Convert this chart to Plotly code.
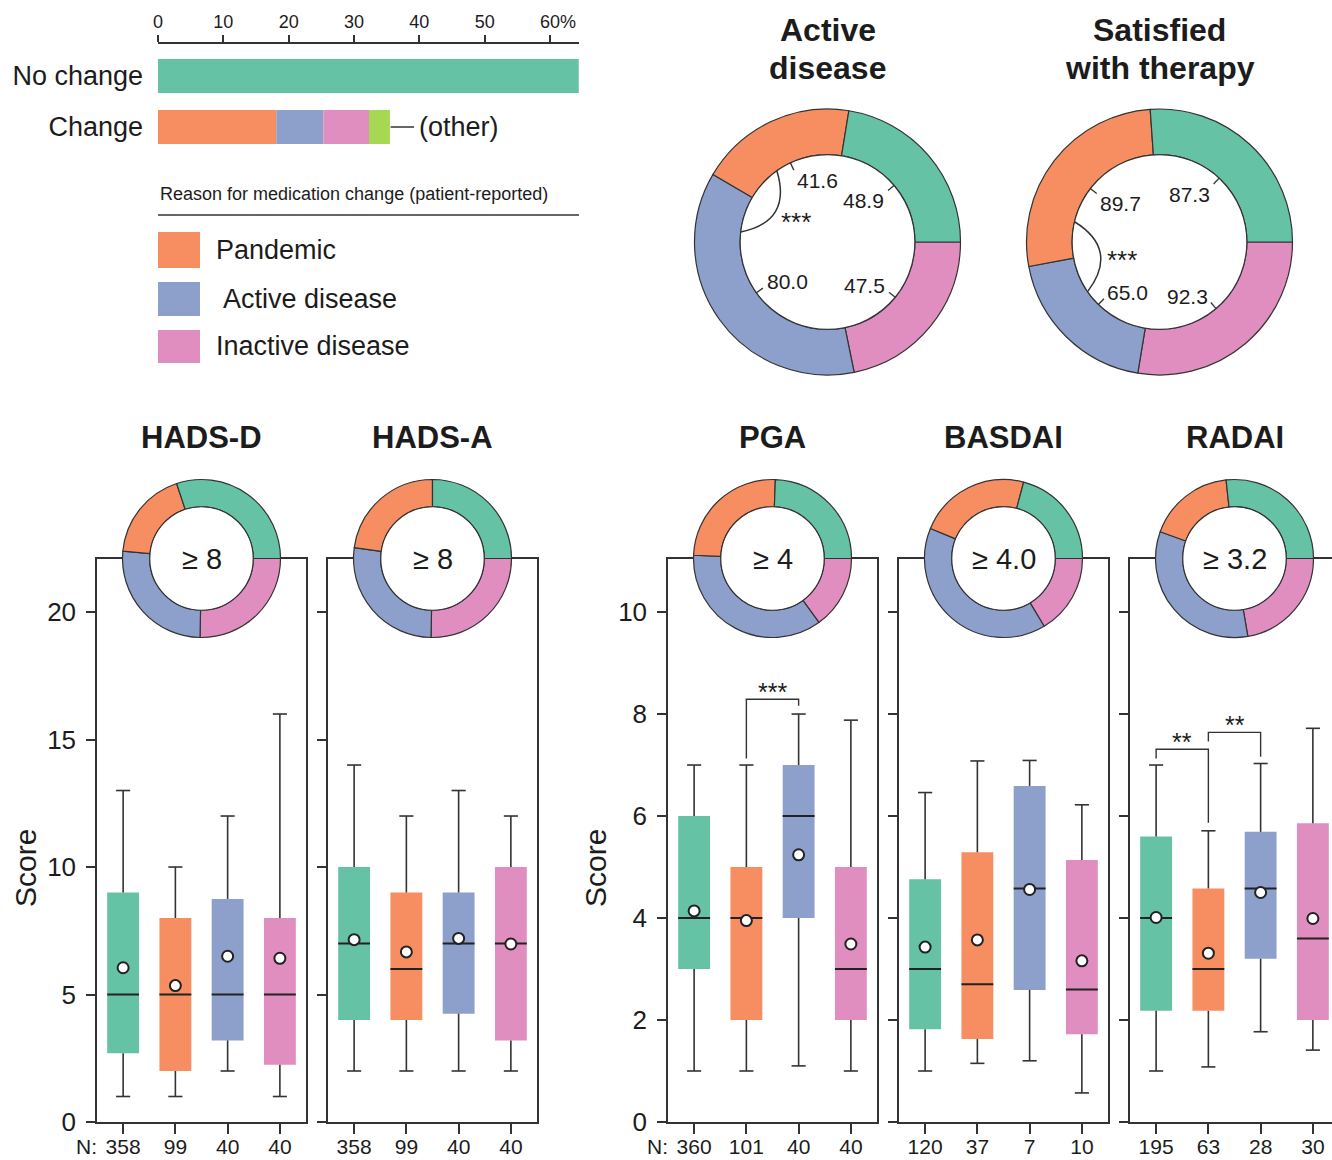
import math
import plotly.graph_objects as go

W, H = 1332, 1160
FONT = "Liberation Sans, Arial, sans-serif"
TXT = "#1c1c1c"
LINE = "#333333"

# ---------------- data ----------------
group_names = ["No change", "Pandemic", "Active disease", "Inactive disease"]
group_colors = ["#66c2a5", "#f68e62", "#8da0cb", "#e08dc0"]
other_color = "#a6d854"

bar_categories = ["No change", "Change"]
no_change_pct = 64.4
change_reasons = ["Pandemic", "Active disease", "Inactive disease", "(other)"]
change_pct = [18.1, 7.2, 7.0, 3.2]
pct_ticks = [0, 10, 20, 30, 40, 50, 60]
reason_caption = "Reason for medication change (patient-reported)"

# % of patients in each group (No change, Pandemic, Active, Inactive)
active_disease_pct = [48.9, 41.6, 80.0, 47.5]
satisfied_pct = [87.3, 89.7, 65.0, 92.3]
sig_label_angle = [308, 250.5]   # where the *** sits inside each top donut (deg, clockwise from 12)

panel_titles = ["HADS-D", "HADS-A", "PGA", "BASDAI", "RADAI"]
thresholds = ["≥ 8", "≥ 8", "≥ 4", "≥ 4.0", "≥ 3.2"]
# share of each group among patients above threshold (No change, Pandemic, Active, Inactive)
hadsd_share = [30.1, 18.4, 26.2, 25.3]
hadsa_share = [25.0, 22.8, 26.9, 25.3]
pga_share = [24.4, 24.9, 35.6, 15.0]
basdai_share = [20.9, 22.9, 39.8, 16.4]
radai_share = [26.7, 17.8, 33.2, 22.3]

hadsd_n = [358, 99, 40, 40]
hadsa_n = [358, 99, 40, 40]
pga_n = [360, 101, 40, 40]
basdai_n = [120, 37, 7, 10]
radai_n = [195, 63, 28, 30]

# box statistics (No change, Pandemic, Active, Inactive)
hadsd_low = [1, 1, 2, 1]
hadsd_q1 = [2.7, 2.0, 3.2, 2.25]
hadsd_med = [5, 5, 5, 5]
hadsd_q3 = [9, 8, 8.75, 8]
hadsd_high = [13, 10, 12, 16]
hadsd_mean = [6.05, 5.35, 6.5, 6.42]

hadsa_low = [2, 2, 2, 2]
hadsa_q1 = [4, 4, 4.25, 3.2]
hadsa_med = [7, 6, 7, 7]
hadsa_q3 = [10, 9, 9, 10]
hadsa_high = [14, 12, 13, 12]
hadsa_mean = [7.15, 6.67, 7.2, 6.98]

pga_low = [1, 1, 1.1, 1]
pga_q1 = [3, 2, 4, 2]
pga_med = [4, 4, 6, 3]
pga_q3 = [6, 5, 7, 5]
pga_high = [7, 7, 8, 7.88]
pga_mean = [4.14, 3.95, 5.24, 3.49]

basdai_low = [1.0, 1.15, 1.2, 0.57]
basdai_q1 = [1.82, 1.63, 2.59, 1.72]
basdai_med = [3.0, 2.7, 4.58, 2.6]
basdai_q3 = [4.76, 5.29, 6.59, 5.14]
basdai_high = [6.46, 7.08, 7.09, 6.22]
basdai_mean = [3.43, 3.57, 4.56, 3.16]

radai_low = [1.0, 1.08, 1.77, 1.41]
radai_q1 = [2.18, 2.18, 3.2, 2.0]
radai_med = [4.0, 3.0, 4.58, 3.6]
radai_q3 = [5.6, 4.58, 5.69, 5.86]
radai_high = [7.0, 5.71, 7.03, 7.72]
radai_mean = [4.01, 3.31, 4.5, 3.99]

# significance brackets: (panel, from box, to box, left foot, top, right foot, label)
brackets = [
    (2, 2, 3, 7.13, 8.29, 8.16, "***"),
    (4, 1, 2, 7.13, 7.31, 5.87, "**"),
    (4, 2, 3, 7.46, 7.64, 7.16, "**"),
]

# ---------------- helpers ----------------
fig = go.Figure()
axes = {}


def px(x):
    return x / W


def py(y):
    return 1 - y / H


def ann(text, x, y, size, xanchor="center", yanchor="middle", bold=False, **kw):
    fig.add_annotation(text=f"<b>{text}</b>" if bold else text, x=px(x), y=py(y),
                       xref="paper", yref="paper", xanchor=xanchor, yanchor=yanchor,
                       showarrow=False, font=dict(size=size, color=TXT, family=FONT), **kw)


def pline(x0, y0, x1, y1, width=1.5):
    fig.add_shape(type="line", xref="paper", yref="paper", x0=px(x0), y0=py(y0),
                  x1=px(x1), y1=py(y1), line=dict(color=LINE, width=width), layer="above")


PIE_ORDER = [3, 2, 1, 0]  # clockwise from 3 o'clock: inactive, active, pandemic, no change


def donut(cx, cy, R, vals, hole):
    fig.add_trace(go.Pie(
        values=[vals[i] for i in PIE_ORDER],
        marker=dict(colors=[group_colors[i] for i in PIE_ORDER], line=dict(color=LINE, width=1.2)),
        hole=hole, sort=False, direction="clockwise", rotation=90,
        textinfo="none", textposition="none", hoverinfo="skip", showlegend=False,
        domain=dict(x=[px(cx - R), px(cx + R)], y=[py(cy + R), py(cy - R)])))
    r = hole * R
    fig.add_shape(type="circle", xref="paper", yref="paper",
                  x0=px(cx - r), x1=px(cx + r), y0=py(cy + r), y1=py(cy - r),
                  fillcolor="white", line=dict(color=LINE, width=1.2), layer="above")


def seg_angles(vals):
    total = sum(vals)
    a = 90.0
    mids, spans = {}, {}
    for i in PIE_ORDER:
        s = vals[i] / total * 360
        mids[i] = a + s / 2
        spans[i] = (a, a + s)
        a += s
    return mids, spans


def polar(cx, cy, r, deg):
    t = math.radians(deg)
    return cx + r * math.sin(t), cy - r * math.cos(t)


def top_donut(cx, cy, R, vals, title_lines, star_angle):
    hole = 0.657
    donut(cx, cy, R, vals, hole)
    rin = hole * R
    mids, spans = seg_angles(vals)
    for i in range(4):
        m = mids[i]
        x0, y0 = polar(cx, cy, rin, m)
        x1, y1 = polar(cx, cy, rin - 8, m)
        pline(x0, y0, x1, y1, 1.3)
        lx, ly = polar(cx, cy, rin - 10, m)
        s = math.sin(math.radians(m))
        upper = -math.cos(math.radians(m)) < 0
        ann(f"{vals[i]:.1f}", lx, ly + (9 if upper else -5), 21,
            xanchor="right" if s > 0 else "left")
    # significance arc between Pandemic and Active disease
    b = spans[2][1]
    ax, ay = polar(cx, cy, rin, b - 24)
    bx, by = polar(cx, cy, rin, b + 24)
    mx, my = (ax + bx) / 2, (ay + by) / 2
    half = math.hypot(bx - ax, by - ay) / 2
    nx, ny = cx - mx, cy - my
    nl = math.hypot(nx, ny)
    nx, ny = nx / nl, ny / nl
    sag = 0.55 * half
    qx, qy = mx + nx * 2 * sag, my + ny * 2 * sag
    fig.add_shape(type="path", xref="paper", yref="paper",
                  path=f"M {px(ax)} {py(ay)} Q {px(qx)} {py(qy)} {px(bx)} {py(by)}",
                  line=dict(color=LINE, width=1.5), layer="above")
    sx, sy = polar(cx, cy, 40, star_angle)
    ann("***", sx, sy + 5, 26)
    ann(title_lines[0], cx, 30, 32, bold=True)
    ann(title_lines[1], cx, 68, 32, bold=True)


# ---------------- top-left bar chart ----------------
fig.add_trace(go.Bar(orientation="h", y=[0], x=[no_change_pct], width=0.667,
                     marker=dict(color=group_colors[0], line=dict(width=0)),
                     xaxis="x", yaxis="y", hoverinfo="skip", showlegend=False))
cum = 0.0
for v, c in zip(change_pct, group_colors[1:] + [other_color]):
    fig.add_trace(go.Bar(orientation="h", y=[1], x=[v], base=[cum], width=0.667,
                         marker=dict(color=c, line=dict(width=0)),
                         xaxis="x", yaxis="y", hoverinfo="skip", showlegend=False))
    cum += v
fig.add_shape(type="line", xref="x", yref="y", x0=cum + 0.1, x1=cum + 3.7, y0=1, y1=1,
              line=dict(color=LINE, width=1.5))
fig.add_annotation(text=change_reasons[-1], x=cum + 4.2, y=1, xref="x", yref="y",
                   xanchor="left", yanchor="middle", showarrow=False,
                   font=dict(size=27, color=TXT, family=FONT))
fig.add_annotation(text="%", x=pct_ticks[-1], y=py(22), xref="x", yref="paper", xshift=8,
                   xanchor="left", yanchor="middle", showarrow=False,
                   font=dict(size=18, color=TXT, family=FONT))

axes["xaxis"] = dict(domain=[px(158), px(579)], anchor="y", side="top", range=[0, 64.44],
                     tickvals=pct_ticks, ticktext=[str(t) for t in pct_ticks],
                     showline=True, linecolor=LINE, linewidth=1.5, ticks="outside", ticklen=7,
                     tickwidth=1.5, tickcolor=LINE, tickfont=dict(size=18, color=TXT),
                     showgrid=False, zeroline=False, automargin=False)
axes["yaxis"] = dict(domain=[py(160), py(44)], anchor="x", range=[1.647, -0.627],
                     tickvals=[0, 1], ticktext=bar_categories, ticks="", showline=False,
                     showgrid=False, zeroline=False, tickfont=dict(size=27, color=TXT),
                     ticklabelstandoff=14, automargin=False)

ann(reason_caption, 158, 194, 18, xanchor="left")
pline(158, 215, 579, 215, 1.5)

legend_boxes = [(232, 268), (282, 316), (330, 363)]
legend_text_x = [214, 221, 214]
for k, ((y0, y1), tx) in enumerate(zip(legend_boxes, legend_text_x)):
    fig.add_shape(type="rect", xref="paper", yref="paper", x0=px(158), x1=px(200),
                  y0=py(y1), y1=py(y0), fillcolor=group_colors[k + 1], line=dict(width=0))
    ann(group_names[k + 1], tx, (y0 + y1) / 2, 27, xanchor="left")

# ---------------- top donuts ----------------
top_donut(827.5, 242, 133, active_disease_pct, ["Active", "disease"], sig_label_angle[0])
top_donut(1159.5, 242, 133, satisfied_pct, ["Satisfied", "with therapy"], sig_label_angle[1])

# ---------------- box panels ----------------
panels = [
    (hadsd_low, hadsd_q1, hadsd_med, hadsd_q3, hadsd_high, hadsd_mean, hadsd_n, hadsd_share),
    (hadsa_low, hadsa_q1, hadsa_med, hadsa_q3, hadsa_high, hadsa_mean, hadsa_n, hadsa_share),
    (pga_low, pga_q1, pga_med, pga_q3, pga_high, pga_mean, pga_n, pga_share),
    (basdai_low, basdai_q1, basdai_med, basdai_q3, basdai_high, basdai_mean, basdai_n, basdai_share),
    (radai_low, radai_q1, radai_med, radai_q3, radai_high, radai_mean, radai_n, radai_share),
]
panel_px = [(97, 306), (328, 537), (668, 877), (899, 1108), (1130, 1339)]
panel_scale = ["hads", "hads", "ten", "ten", "ten"]
FRAME_TOP, FRAME_BOT = 559, 1122
yranges = {"hads": [0, 22.08], "ten": [0, 11.04]}
yticks = {"hads": [0, 5, 10, 15, 20], "ten": [0, 2, 4, 6, 8, 10]}
positions = [1, 2, 3, 4]
BOX_W = 0.61
CAP = 0.135

for p, (lo, q1, med, q3, hi, mean, ns, share) in enumerate(panels):
    k = p + 2
    xa, ya = f"x{k}", f"y{k}"
    x0p, x1p = panel_px[p]
    unit = (x1p - x0p) / 4
    xend = min(x1p, W)
    xr = [0.5, 0.5 + (xend - x0p) / unit]
    lx, ly = [], []
    for j, pos in enumerate(positions):
        lx += [pos, pos, None, pos - CAP, pos + CAP, None, pos, pos, None, pos - CAP, pos + CAP, None]
        ly += [lo[j], q1[j], None, lo[j], lo[j], None, q3[j], hi[j], None, hi[j], hi[j], None]
    fig.add_trace(go.Scatter(x=lx, y=ly, mode="lines", line=dict(color=LINE, width=1.6),
                             xaxis=xa, yaxis=ya, hoverinfo="skip", showlegend=False))
    fig.add_trace(go.Bar(x=positions, y=[q3[j] - q1[j] for j in range(4)], base=q1, width=BOX_W,
                         marker=dict(color=group_colors, line=dict(width=0)),
                         xaxis=xa, yaxis=ya, hoverinfo="skip", showlegend=False))
    mx, my = [], []
    for j, pos in enumerate(positions):
        mx += [pos - BOX_W / 2, pos + BOX_W / 2, None]
        my += [med[j], med[j], None]
    fig.add_trace(go.Scatter(x=mx, y=my, mode="lines", line=dict(color="#222222", width=2),
                             xaxis=xa, yaxis=ya, hoverinfo="skip", showlegend=False))
    fig.add_trace(go.Scatter(x=positions, y=mean, mode="markers",
                             marker=dict(color="white", size=11, line=dict(color="#222222", width=2)),
                             xaxis=xa, yaxis=ya, hoverinfo="skip", showlegend=False))
    sc = panel_scale[p]
    show_labels = p in (0, 2)
    axes[f"xaxis{k}"] = dict(domain=[px(x0p), px(xend)], anchor=ya, range=xr,
                             tickvals=positions, ticktext=[str(n) for n in ns],
                             showline=True, mirror=True, linecolor=LINE, linewidth=1.5,
                             ticks="outside", ticklen=10, tickwidth=1.5, tickcolor=LINE,
                             tickfont=dict(size=21, color=TXT), ticklabelstandoff=-5,
                             showgrid=False, zeroline=False, automargin=False)
    axes[f"yaxis{k}"] = dict(domain=[py(FRAME_BOT), py(FRAME_TOP)], anchor=xa, range=yranges[sc],
                             tickvals=yticks[sc], showticklabels=show_labels,
                             showline=True, mirror=(p != 4), linecolor=LINE, linewidth=1.5,
                             ticks="outside", ticklen=9, tickwidth=1.5, tickcolor=LINE,
                             tickfont=dict(size=26, color=TXT), ticklabelstandoff=5,
                             showgrid=False, zeroline=False, automargin=False)
    cx = (x0p + x1p) / 2
    donut(cx, 558.5, 79, share, 0.655)
    ann(thresholds[p], cx, 558.5, 29)
    ann(panel_titles[p], cx, 438, 31, bold=True)

for (p, a, b, lf, top, rf, lab) in brackets:
    k = p + 2
    fig.add_trace(go.Scatter(x=[a, a, b, b], y=[lf, top, top, rf], mode="lines",
                             line=dict(color=LINE, width=1.4), xaxis=f"x{k}", yaxis=f"y{k}",
                             hoverinfo="skip", showlegend=False))
    fig.add_annotation(text=lab, x=(a + b) / 2, y=top, xref=f"x{k}", yref=f"y{k}",
                       xanchor="center", yanchor="bottom", yshift=-9, showarrow=False,
                       font=dict(size=25, color=TXT, family=FONT))

ann("N:", 86, 1146, 21)
ann("N:", 657, 1146, 21)
ann("Score", 25, 868, 30, textangle=-90)
ann("Score", 595, 868, 30, textangle=-90)

fig.update_layout(template="none", width=W, height=H, margin=dict(l=0, r=0, t=0, b=0, pad=0),
                  paper_bgcolor="white", plot_bgcolor="rgba(0,0,0,0)",
                  barmode="overlay", showlegend=False,
                  font=dict(family=FONT, color=TXT), **axes)

fig.write_html("out.html", config={"displayModeBar": False},
               post_script="document.body.style.margin='0';document.body.style.overflow='hidden';")
